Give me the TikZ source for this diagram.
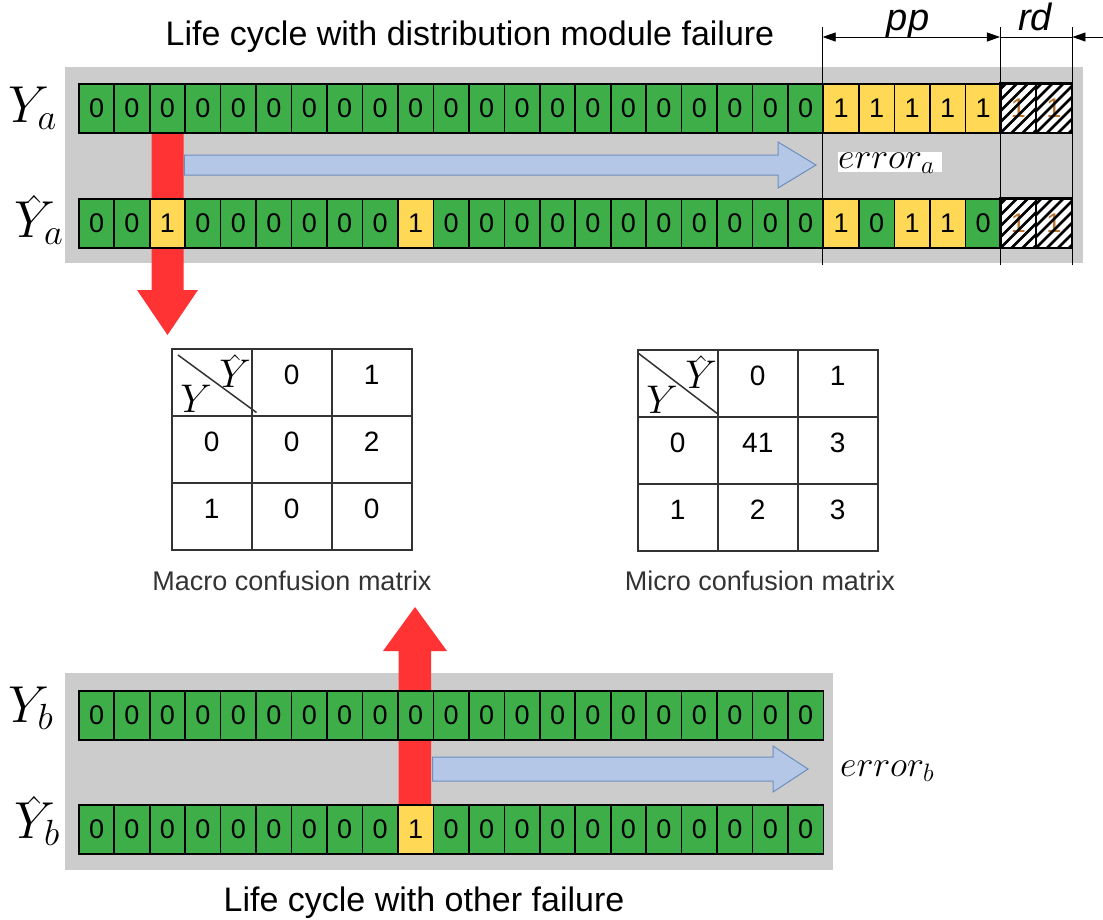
\RequirePackage{fix-cm}
\documentclass[tikz,border=0pt]{standalone}
\usepackage{fontspec}
\setmainfont{Liberation Sans}
\usetikzlibrary{arrows.meta,calc}
\definecolor{cgreen}{HTML}{3EAE48}
\definecolor{cyellow}{HTML}{FFD955}
\definecolor{cred}{HTML}{FF3333}
\definecolor{cbluef}{HTML}{B4C7E7}
\definecolor{cblued}{HTML}{6C8EBF}
\definecolor{cgray}{HTML}{CCCCCC}
\definecolor{mline}{HTML}{333333}
\definecolor{capc}{HTML}{333333}
\definecolor{horange}{HTML}{B8732E}
\newcommand{\fs}[1]{\fontsize{#1}{#1}\selectfont}
\newcommand{\lowhat}[1]{\hat{\raisebox{0pt}[#1][0pt]{$Y$}}}
\begin{document}
\begin{tikzpicture}[x=1pt,y=-1pt,
  cell/.style={draw=black,line width=1.6pt,minimum width=35.46pt,minimum height=49pt,inner sep=0pt,anchor=north west,font=\fs{27}},
  mcell/.style={draw=mline,line width=1.5pt,minimum width=80pt,minimum height=67pt,inner sep=0pt,anchor=north west},
  num/.style={inner sep=0pt,font=\fs{28}},
  panel/.style={fill=cgray},
  redarrow/.style={fill=cred},
  bluearrow/.style={fill=cbluef,draw=cblued,line width=1pt},
  dimline/.style={line width=0.8pt},
  lbl/.style={inner sep=0pt},
  tip/.style={-{Triangle[length=13pt,width=9pt]}},
]
\useasboundingbox (0,0) rectangle (1103,919);

% panels
\fill[panel] (65,67) rectangle (1083,263);
\fill[panel] (65,673) rectangle (833,870);

% red arrows
\path[redarrow] (151.5,132) -- (183.5,132) -- (183.5,290) -- (198,290) -- (167.5,335) -- (137,290) -- (151.5,290) -- cycle;
\path[redarrow] (398.5,804) -- (431,804) -- (431,651) -- (447,651) -- (415,607) -- (383,651) -- (398.5,651) -- cycle;

% rows
\foreach \v [count=\i from 0] in {0,0,0,0,0,0,0,0,0,0,0,0,0,0,0,0,0,0,0,0,0,1,1,1,1,1}{
  \ifnum\v=0 \def\cc{cgreen}\else\def\cc{cyellow}\fi
  \node[cell,fill=\cc] (ya-\i) at (78+\i*35.46,83) {\v};
}
\foreach \v [count=\i from 0] in {0,0,1,0,0,0,0,0,0,1,0,0,0,0,0,0,0,0,0,0,0,1,0,1,1,0}{
  \ifnum\v=0 \def\cc{cgreen}\else\def\cc{cyellow}\fi
  \node[cell,fill=\cc] (pa-\i) at (78+\i*35.46,198) {\v};
}
\foreach \v [count=\i from 0] in {0,0,0,0,0,0,0,0,0,0,0,0,0,0,0,0,0,0,0,0,0}{
  \node[cell,fill=cgreen] (yb-\i) at (78+\i*35.46,690) {\v};
}
\foreach \v [count=\i from 0] in {0,0,0,0,0,0,0,0,0,1,0,0,0,0,0,0,0,0,0,0,0}{
  \ifnum\v=0 \def\cc{cgreen}\else\def\cc{cyellow}\fi
  \node[cell,fill=\cc] (pb-\i) at (78+\i*35.46,804) {\v};
}
% hatched cells
\foreach \rw/\yy in {ya/83,pa/198}{
  \foreach \i in {26,27}{
    \node[cell,fill=white,text=horange] (\rw-\i) at (78+\i*35.46,\yy) {1};
    \begin{scope}
      \clip (\rw-\i.south west) rectangle (\rw-\i.north east);
      \foreach \k in {-55,-44,...,36}
        \draw[line width=2.6pt] ($(\rw-\i.south west)+(\k,0)$) -- ++(52,-52);
    \end{scope}
    \draw[line width=1.6pt] (\rw-\i.south west) rectangle (\rw-\i.north east);
  }
}

% blue arrows
\path[bluearrow] (pa-3.north west |- 0,155) -- (778,155) -- (778,142) -- (816,165) -- (778,188) -- (778,175) -- (pa-3.north west |- 0,175) -- cycle;
\path[bluearrow] (pb-10.north west |- 0,757) -- (773,757) -- (773,746) -- (808,769) -- (773,792) -- (773,781) -- (pb-10.north west |- 0,781) -- cycle;

% error labels
\fill[white] (838,152) rectangle (942,172);
\node[lbl,anchor=base west] (erra) at (838,168) {\fs{36}$error_a$};
\node[lbl,anchor=base west] (errb) at (840,776) {\fs{36}$error_b$};

% row labels
\node[lbl,anchor=base west] (lya) at (8,122) {\fs{52}$Y_a$};
\node[lbl,anchor=base west] (lpa) at (14,237) {\fs{52}$\lowhat{28pt}_{\kern-11pt a}$};
\node[lbl,anchor=base west] (lyb) at (8,722) {\fs{52}$Y_b$};
\node[lbl,anchor=base west] (lpb) at (14,838) {\fs{52}$\lowhat{28pt}_{\kern-11pt b}$};

% dimension lines
\coordinate (d1) at (ya-21.north west);
\coordinate (d2) at (ya-26.north west);
\coordinate (d3) at (ya-27.north east);
\foreach \d in {d1,d2,d3} \draw[dimline] (\d |- 0,27) -- (\d |- 0,265);
\draw[dimline,{Triangle[length=13pt,width=9pt]}-{Triangle[length=13pt,width=9pt]}] (d1 |- 0,37) -- (d2 |- 0,37);
\draw[dimline] (d2 |- 0,37) -- (d3 |- 0,37);
\draw[dimline,tip] (1103,37) -- (d3 |- 0,37);
\node[lbl,anchor=base] (pp) at (908,30) {\fs{38}\itshape pp};
\node[lbl,anchor=base] (rd) at (1035,30) {\fs{38}\itshape rd};

% titles
\node[lbl,anchor=base] (title) at (470,45) {\fs{34}Life cycle with distribution module failure};
\node[lbl,anchor=base] (title2) at (424,911) {\fs{34}Life cycle with other failure};

% matrices
\foreach \mx/\ox/\oy in {ma/171/348, mi/637/349}{
  \foreach \r in {0,1,2}{
    \foreach \c in {0,1,2}{
      \node[mcell] (\mx-\r-\c) at (\ox+80*\c,\oy+67*\r) {};
    }
  }
  \node[lbl,anchor=base] (\mx-y) at ($(\mx-0-0.north west)+(25,64)$) {\fs{40}$Y$};
  \node[lbl,anchor=base] (\mx-yh) at ($(\mx-0-0.north west)+(64,39)$) {\fs{40}$\lowhat{22pt}$};
}
\draw[line width=1.5pt,mline] ($(ma-0-0.north west)+(7,7)$) -- ($(ma-0-0.south east)+(4,-4)$);
\draw[line width=1.5pt,mline] ($(mi-0-0.north west)+(1,4)$) -- ($(mi-0-0.south east)+(0,-3)$);
\foreach \r/\c/\t in {0/1/0,0/2/1,1/0/0,1/1/0,1/2/2,2/0/1,2/1/0,2/2/0}
  \node[num] (ma-t-\r-\c) at ($(ma-\r-\c.north)+(0,27)$) {\t};
\foreach \r/\c/\t in {0/1/0,0/2/1,1/0/0,1/1/41,1/2/3,2/0/1,2/1/2,2/2/3}
  \node[num] (mi-t-\r-\c) at ($(mi-\r-\c.north)+(0,27)$) {\t};
\node[lbl,anchor=base,text=capc,font=\fs{27}] (ma-cap) at (292,590) {Macro confusion matrix};
\node[lbl,anchor=base,text=capc,font=\fs{27}] (mi-cap) at (760,590) {Micro confusion matrix};
\end{tikzpicture}
\end{document}
